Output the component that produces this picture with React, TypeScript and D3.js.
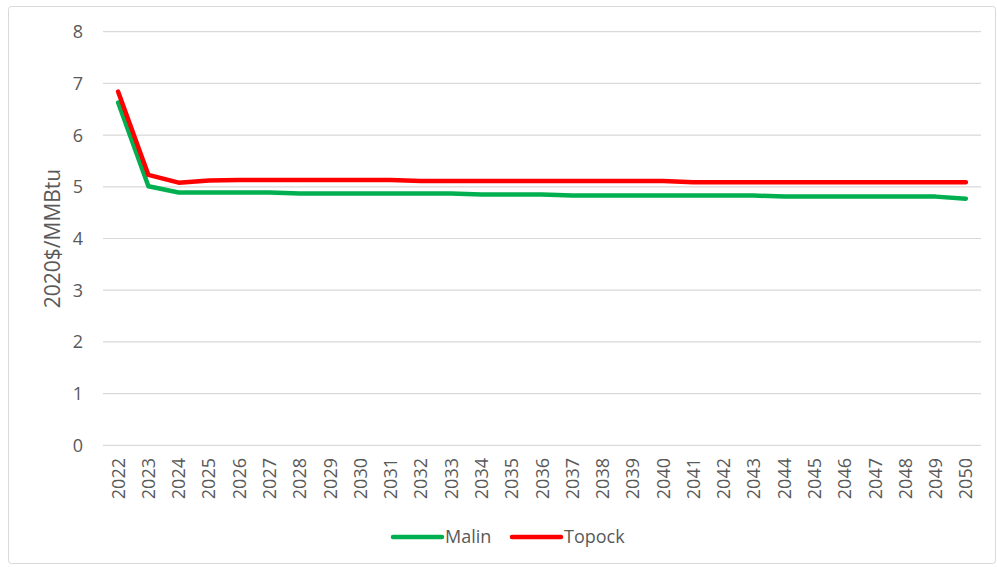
import React from "react";
import * as d3 from "d3";

const years: string[] = d3.range(2022, 2051).map(String);
const malin: number[] = [6.63, 5.01, 4.89, 4.89, 4.89, 4.89, 4.87, 4.87, 4.87, 4.87, 4.87, 4.87, 4.85, 4.85, 4.85, 4.83, 4.83, 4.83, 4.83, 4.83, 4.83, 4.83, 4.81, 4.81, 4.81, 4.81, 4.81, 4.81, 4.77];
const topock: number[] = [6.84, 5.23, 5.08, 5.12, 5.13, 5.13, 5.13, 5.13, 5.13, 5.13, 5.11, 5.11, 5.11, 5.11, 5.11, 5.11, 5.11, 5.11, 5.11, 5.09, 5.09, 5.09, 5.09, 5.09, 5.09, 5.09, 5.09, 5.09, 5.09];
const yTicks: number[] = [0, 1, 2, 3, 4, 5, 6, 7, 8];
const seriesNames = ["Malin", "Topock"];
const seriesColors = ["#00B050", "#FF0000"];

export default function App() {
  const W = 997, H = 567;
  const left = 103, right = 981, top = 31.7, bottom = 445.3;
  const x = d3.scaleBand<string>().domain(years).range([left, right]);
  const y = d3.scaleLinear().domain([0, 8]).range([bottom, top]);
  const line = d3.line<number>().x((_, i) => x(years[i])! + x.bandwidth() / 2).y((d) => y(d));
  const font = "'Open Sans', sans-serif";
  const series = [malin, topock];
  return (
    <svg width={W} height={H} style={{ position: "absolute", left: 0, top: 0, fontFamily: font }}>
      <rect x={0} y={0} width={W} height={H} fill="#fff" />
      <rect x={8.5} y={6.5} width={987} height={557} rx={3} fill="none" stroke="#d9d9d9" strokeWidth={1} />
      {yTicks.map((t) => (
        <g key={t}>
          <line x1={left} x2={right} y1={y(t)} y2={y(t)} stroke="#d9d9d9" strokeWidth={1.2} />
          <text x={83} y={y(t)} dy="0.36em" textAnchor="end" fontSize={18} fill="#595959">{t}</text>
        </g>
      ))}
      {years.map((yr) => {
        const cx = x(yr)! + x.bandwidth() / 2;
        return (
          <text key={yr} transform={`translate(${cx + 6.5},${458}) rotate(-90)`} textAnchor="end" fontSize={18} fill="#595959">{yr}</text>
        );
      })}
      <text transform={`translate(60,${(top + bottom) / 2}) rotate(-90)`} textAnchor="middle" fontSize={21} fill="#595959">2020$/MMBtu</text>
      {series.map((s, i) => (
        <path key={i} d={line(s)!} fill="none" stroke={seriesColors[i]} strokeWidth={4.5} strokeLinejoin="round" strokeLinecap="round" />
      ))}
      {seriesNames.map((n, i) => {
        const lx = i === 0 ? 393 : 512;
        return (
          <g key={n}>
            <line x1={lx} x2={lx + 49} y1={537} y2={537} stroke={seriesColors[i]} strokeWidth={4.5} strokeLinecap="round" />
            <text x={lx + 52} y={537} dy="0.36em" fontSize={18} fill="#595959">{n}</text>
          </g>
        );
      })}
    </svg>
  );
}
